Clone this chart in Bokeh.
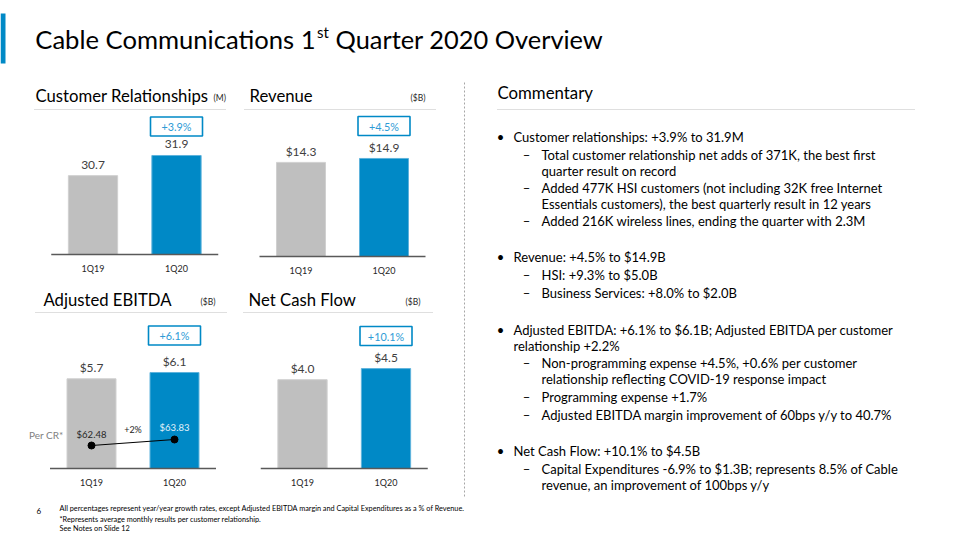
from bokeh.plotting import figure
from bokeh.models import Range1d
from bokeh.embed import file_html
from bokeh.resources import INLINE
from bokeh.core.properties import value

# ---------------- data ----------------
quarters = ["1Q19", "1Q20"]
cust_rel = [30.7, 31.9]
cust_lbl = ["30.7", "31.9"]
revenue = [14.3, 14.9]
rev_lbl = ["$14.3", "$14.9"]
ebitda = [5.7, 6.1]
ebitda_lbl = ["$5.7", "$6.1"]
ncf = [4.0, 4.5]
ncf_lbl = ["$4.0", "$4.5"]
per_cr = [62.48, 63.83]
per_cr_lbl = ["$62.48", "$63.83"]
per_cr_growth = "+2%"
growth = ["+3.9%", "+4.5%", "+6.1%", "+10.1%"]
titles = ["Customer Relationships", "Revenue", "Adjusted EBITDA", "Net Cash Flow"]
units = ["(M)", "($B)", "($B)", "($B)"]

commentary = [
    (0, "Customer relationships: +3.9% to 31.9M"),
    (1, "Total customer relationship net adds of 371K, the best first"),
    (2, "quarter result on record"),
    (1, "Added 477K HSI customers (not including 32K free Internet"),
    (2, "Essentials customers), the best quarterly result in 12 years"),
    (1, "Added 216K wireless lines, ending the quarter with 2.3M"),
    (0, "Revenue: +4.5% to $14.9B"),
    (1, "HSI: +9.3% to $5.0B"),
    (1, "Business Services: +8.0% to $2.0B"),
    (0, "Adjusted EBITDA: +6.1% to $6.1B; Adjusted EBITDA per customer"),
    (3, "relationship +2.2%"),
    (1, "Non-programming expense +4.5%, +0.6% per customer"),
    (2, "relationship reflecting COVID-19 response impact"),
    (1, "Programming expense +1.7%"),
    (1, "Adjusted EBITDA margin improvement of 60bps y/y to 40.7%"),
    (0, "Net Cash Flow: +10.1% to $4.5B"),
    (1, "Capital Expenditures -6.9% to $1.3B; represents 8.5% of Cable"),
    (2, "revenue, an improvement of 100bps y/y"),
]
footnotes = [
    "All percentages represent year/year growth rates, except Adjusted EBITDA margin and Capital Expenditures as a % of Revenue.",
    "*Represents average monthly results per customer relationship.",
    "See Notes on Slide 12",
]
page_number = "6"

# ---------------- styling / layout ----------------
FONT = "Lato"
W, H = 960, 540
X0, Y0 = 0, 0
BLUE = "#0089C6"
GRAY = "#BFBFBF"
bar_colors = [GRAY, BLUE]
bar_edges = ["#D0D0D0", "#5FB3DC"]

p = figure(width=W, height=H, x_range=Range1d(X0, X0 + W), y_range=Range1d(Y0 + H, Y0),
           x_axis_type=None, y_axis_type=None, output_backend="svg",
           toolbar_location=None, min_border=0)
p.grid.visible = False
p.outline_line_color = None
p.background_fill_color = "white"
p.border_fill_color = "white"


def xr(c0, c1):
    d = c1 - c0
    start = -(c0 - X0) / d
    return Range1d(start, start + W / d)


def yr(b, v0, s):
    return Range1d(v0 - (Y0 + H - b) / s, v0 + (b - Y0) / s)


def txt(x, y, t, size, color="#000000", align="left", baseline="middle", **kw):
    p.text(x=x, y=y, text=t, text_font=value(FONT), text_font_size=f"{size}px",
           text_color=color, text_align=align, text_baseline=baseline, **kw)


# accent bar and title
p.quad(left=[0], right=[5], top=[13], bottom=[63], fill_color=BLUE, line_color=None)
txt([315], [38], ["Cable Communications 1"], 25.6, align="right")
txt([316.5], [31], ["st"], 15)
txt([335], [38], ["Quarter 2020 Overview"], 25.4)

# panel layout: (c0, c1, baseline, v0, scale, title_x, title_y, unit_x, rule_x0, rule_x1, rule_y, box_y)
panels = [
    (92.5, 176, 254, 26.0, 16.78, 35, 95.5, 213, 34, 225, 109, 126),
    (300.5, 383.5, 256, 0.0, 6.58, 249, 95.5, 410, 244, 436, 109, 125.5),
    (91, 174, 468, 0.0, 15.74, 43, 299.5, 200, 35, 227, 312, 335),
    (302, 385.5, 468, 0.0, 22.2, 248, 299.5, 405, 243, 433, 312, 335.5),
]
series = [cust_rel, revenue, ebitda, ncf]
labels = [cust_lbl, rev_lbl, ebitda_lbl, ncf_lbl]

for i, (c0, c1, b, v0, s, tx, ty, ux, rx0, rx1, ry, by) in enumerate(panels):
    xn, yn = f"x{i}", f"y{i}"
    p.extra_x_ranges[xn] = xr(c0, c1)
    p.extra_y_ranges[yn] = yr(b, v0, s)
    # heading
    txt([tx], [ty], [titles[i]], 16.7)
    txt([ux], [ty + 1.5], [units[i]], 8.5, color="#262626")
    p.line(x=[rx0, rx1], y=[ry, ry], line_color="#BFBFBF", line_width=1, line_dash="1 1")
    # bars
    p.vbar(x=[0, 1], top=series[i], bottom=v0, width=0.59, fill_color=bar_colors,
           line_color=bar_edges, line_width=1, x_range_name=xn, y_range_name=yn)
    p.line(x=[-0.5, 1.5], y=[v0, v0], line_color="#595959", line_width=1.6,
           x_range_name=xn, y_range_name=yn)
    txt([0, 1], series[i], labels[i], 12, color="#404040", align="center",
        y_offset=-11, x_range_name=xn, y_range_name=yn)
    txt([0, 1], [v0, v0], quarters, 9, color="#262626", align="center",
        y_offset=14, x_range_name=xn, y_range_name=yn)
    # growth box
    p.rect(x=[1], y=[by], width=52, height=19, width_units="screen", height_units="screen",
           fill_color="white", line_color=BLUE, line_width=1.6, x_range_name=xn)
    txt([1], [by], [growth[i]], 10.8, color="#2E9BD6", align="center", x_range_name=xn)

# per customer relationship line (EBITDA panel)
p.extra_y_ranges["cr"] = yr(468, 57.3, 4.44)
p.line(x=[0, 1], y=per_cr, line_color="black", line_width=1, x_range_name="x2", y_range_name="cr")
p.scatter(x=[0, 1], y=per_cr, size=7, fill_color="black", line_color="black",
          x_range_name="x2", y_range_name="cr")
txt([0], [per_cr[0]], [per_cr_lbl[0]], 9.5, color="#262626", align="center",
    y_offset=-11, x_range_name="x2", y_range_name="cr")
txt([1], [per_cr[1]], [per_cr_lbl[1]], 9.5, color="#E3F2FA", align="center",
    y_offset=-12, x_range_name="x2", y_range_name="cr")
txt([0.5], [(per_cr[0] + per_cr[1]) / 2], [per_cr_growth], 9, color="#262626", align="center",
    y_offset=-13, x_range_name="x2", y_range_name="cr")
txt([0], [per_cr[0]], ["Per CR*"], 10, color="#7F7F7F", align="right",
    x_offset=-28, y_offset=-11, x_range_name="x2", y_range_name="cr")

# vertical separator
p.line(x=[464, 464], y=[82, 496], line_color="#A6A6A6", line_width=1, line_dash="2 2")

# commentary
txt([497], [92], ["Commentary"], 16.8)
p.line(x=[497, 914], y=[109, 109], line_color="#BFBFBF", line_width=1, line_dash="1 1")
line_y = [136, 154, 170, 187, 203, 220, 256, 274, 292, 329, 345, 362, 378, 396, 414, 450, 468, 484]
text_x = {0: 513, 1: 541, 2: 541, 3: 513}
for (lvl, t), y in zip(commentary, line_y):
    txt([text_x[lvl]], [y], [t], 13)
    if lvl == 0:
        txt([500], [y], ["\u2022"], 13, align="center")
    elif lvl == 1:
        txt([526], [y], ["\u2013"], 13, align="center")

# footer
txt([36], [510], [page_number], 8)
for t, y in zip(footnotes, [508, 518.5, 528]):
    txt([59], [y], [t], 7.3)

open("out.html", "w").write(file_html(p, INLINE))
